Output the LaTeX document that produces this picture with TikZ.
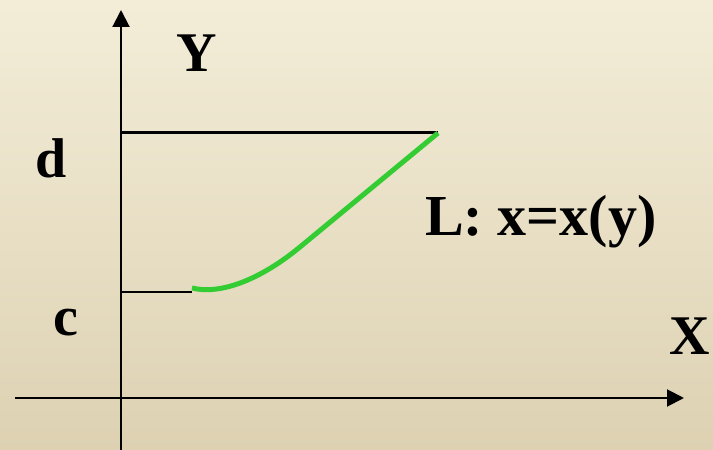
\documentclass[tikz,border=0pt]{standalone}
\usepackage{fontspec}
\setmainfont{Liberation Serif}
\usetikzlibrary{arrows.meta,positioning}
\definecolor{bgtop}{RGB}{243,237,216}
\definecolor{bgbot}{RGB}{221,209,178}
\definecolor{curvegreen}{RGB}{51,204,51}

\begin{document}
\begin{tikzpicture}[x=1pt,y=1pt,
    axis/.style={line width=2pt,-{Triangle[length=17pt,width=17pt]}},
    lab/.style={font=\fontsize{56}{60}\selectfont\bfseries,inner sep=0pt,anchor=base}]
  \shade[top color=bgtop,bottom color=bgbot] (0,0) rectangle (713,450);
  \useasboundingbox (0,0) rectangle (713,450);
  % axes
  \coordinate (xs) at (15,52);
  \coordinate (xe) at (684,52);
  \coordinate (ys) at (121,0);
  \coordinate (ye) at (121,440);
  \draw[axis] (xs) -- (xe);
  \draw[axis] (ys) -- (ye);
  % levels c and d
  \coordinate (dl) at (121,317);
  \coordinate (dr) at (438,317);
  \coordinate (cl) at (121,158);
  \coordinate (cr) at (192,158);
  \draw[line width=3pt] (dl) -- (dr);
  \draw[line width=2pt] (cl) -- (cr);
  % the curve L
  \coordinate (ls) at (192,162);
  \coordinate (lm) at (300,203);
  \draw[curvegreen,line width=5pt,line join=round]
    (ls) .. controls (220,155) and (260,170) .. (lm) -- (dr);
  \node[lab] (ylab) at (197,378) {Y};
  \node[lab] (xlab) at (690,95) {X};
  \node[lab] (dlab) at (51,272) {d};
  \node[lab] (clab) at (66,114) {c};
  \node[lab,anchor=base west,font=\fontsize{58}{62}\selectfont\bfseries]
    (llab) at (425,214) {L: x=x(y)};
\end{tikzpicture}
\end{document}
